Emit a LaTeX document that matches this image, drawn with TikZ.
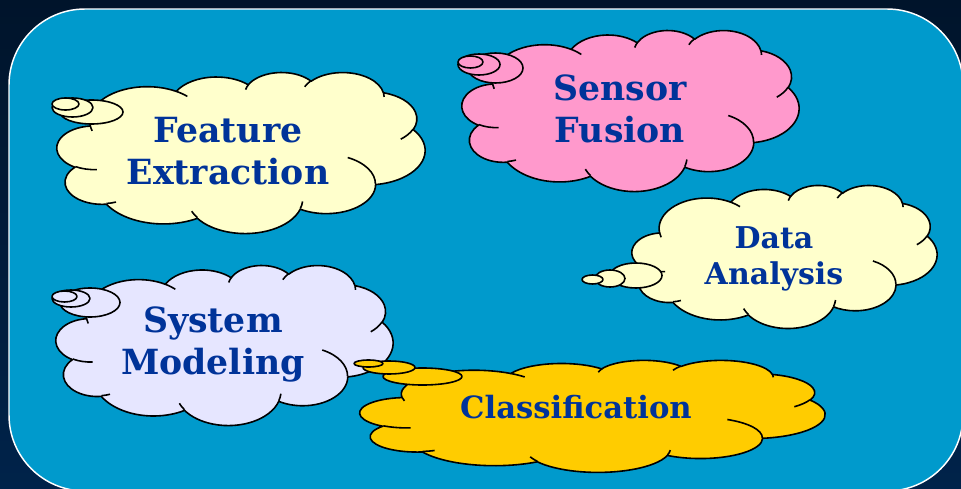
\documentclass[tikz,border=0pt]{standalone}
\usepackage{fontspec}
\setmainfont{DejaVu Serif}
\usepackage{tikz}
\definecolor{NightBlue}{HTML}{00142B}
\definecolor{NightBlueLow}{HTML}{00234A}
\definecolor{PanelBlue}{HTML}{009ACC}
\definecolor{InkBlue}{HTML}{003399}
\definecolor{CreamYellow}{HTML}{FFFFCC}
\definecolor{SoftPink}{HTML}{FF99CC}
\definecolor{Lavender}{HTML}{E6E6FF}
\definecolor{Gold}{HTML}{FFCC00}

\tikzset{
  declare function={pa(\w,\h,\a)=atan2(\w*sin(\a),\h*cos(\a));},
  cloudline/.style={draw=black, line width=1.2pt, line join=round},
  label text/.style={text=InkBlue, align=center, font=\bfseries\fontsize{26}{31.5}\selectfont}
}

% one puff of the outline: radii and angles as in a 432-unit box
\newcommand{\puff}[4]{arc[x radius={#1/432}, y radius={#2/432},
  start angle={pa(#1,#2,#3)},
  end angle={pa(#1,#2,#3)+mod(pa(#1,#2,#3+#4)-pa(#1,#2,#3)+720,360)}]}

% cloud body in a box: fill, left, top, width, height
\newcommand{\cloudbody}[5]{%
  \begin{scope}[shift={(#2,#3)}, xscale=#4/100, yscale=#5/100]
    \filldraw[cloudline, fill=#1] (9.028,33.264)
      \puff{6753}{9190}{-190.4875}{123.7805}
      \puff{5333}{7267}{-144.1024}{89.9452}
      \puff{4365}{5945}{-145.8079}{99.7230}
      \puff{4857}{6595}{-130.9861}{117.2417}
      \puff{5333}{7273}{-78.7089}{109.0269}
      \puff{6775}{9220}{-46.2673}{130.2690}
      \puff{5785}{7867}{0.6250}{114.0333}
      \puff{6752}{9215}{22.4516}{115.1726}
      \puff{7720}{10543}{66.2426}{75.7110}
      \puff{4360}{5918}{-274.9421}{146.7356}
      \puff{4345}{5945}{-246.8285}{152.5189} -- cycle;
    % inner folds
    \draw[cloudline] (10.863,60.595) \puff{4345}{5945}{86.7420}{26.4295}
      (16.037,80.785) \puff{4360}{5918}{73.6105}{11.4475}
      (38.144,90.486) \puff{6752}{9215}{137.6242}{14.0811}
      (66.729,80.442) \puff{6752}{9215}{6.4533}{15.9984}
      (79.002,53.134) \puff{5785}{7867}{-70.2924}{70.9174}
      (96.755,35.542) \puff{5333}{7273}{30.3180}{27.7515}
      (88.713,12.560) \puff{4857}{6595}{-13.7443}{14.8589}
      (67.310,9.148) \puff{4857}{6595}{-149.1815}{18.1954}
      (51.252,10.926) \puff{4365}{5945}{-163.4943}{17.6864}
      (32.407,12.019) \puff{6753}{9190}{-66.7070}{12.3194}
      (9.553,36.549) \puff{6753}{9190}{157.6544}{11.8582};
  \end{scope}}

\begin{document}
\begin{tikzpicture}[x=0.75pt, y=-0.75pt]
        \useasboundingbox (0,0) rectangle (961,489);
        % Backdrop and panel
        \shade[top color=NightBlue, bottom color=NightBlueLow] (0,0) rectangle (961,489);
        \draw[white, line width=1.1pt, fill=PanelBlue, rounded corners=57pt] (9,9) rectangle (963,491);

        % Feature extraction
        \cloudbody{CreamYellow}{57}{72}{368}{161}
        \filldraw[cloudline, fill=CreamYellow] (91.5,112) ellipse[x radius=31.5, y radius=12];
        \filldraw[cloudline, fill=CreamYellow] (72.5,107.5) ellipse[x radius=20.5, y radius=9.5];
        \filldraw[cloudline, fill=CreamYellow] (65.5,104) ellipse[x radius=13.5, y radius=6];
        \node[label text] (feature) at (228,151) {Feature\\Extraction};

        % Sensor fusion
        \cloudbody{SoftPink}{462}{30}{337}{161}
        \filldraw[cloudline, fill=SoftPink] (495.5,68) ellipse[x radius=27.5, y radius=15];
        \filldraw[cloudline, fill=SoftPink] (479,64.5) ellipse[x radius=21, y radius=10.5];
        \filldraw[cloudline, fill=SoftPink] (470.5,62) ellipse[x radius=12.5, y radius=6];
        \node[label text] (fusion) at (620,109) {Sensor\\Fusion};

        % Data analysis
        \cloudbody{CreamYellow}{632}{185}{305}{143}
        \filldraw[cloudline, fill=CreamYellow] (636,275.5) ellipse[x radius=26, y radius=12.5];
        \filldraw[cloudline, fill=CreamYellow] (610,278.5) ellipse[x radius=15, y radius=8.5];
        \filldraw[cloudline, fill=CreamYellow] (592.5,279.5) ellipse[x radius=10.5, y radius=4.5];
        \node[label text, font=\bfseries\fontsize{22.5}{27}\selectfont] (analysis) at (774,258.5) {Data\\Analysis};

        % System modeling
        \cloudbody{Lavender}{56}{265}{337}{160}
        \filldraw[cloudline, fill=Lavender] (90,302.5) ellipse[x radius=30, y radius=14.5];
        \filldraw[cloudline, fill=Lavender] (71,298.5) ellipse[x radius=19, y radius=8.5];
        \filldraw[cloudline, fill=Lavender] (64.5,296.5) ellipse[x radius=12.5, y radius=5.5];
        \node[label text] (modeling) at (213,344) {System\\Modeling};

        % Classification
        \cloudbody{Gold}{360}{360}{465}{112}
        \filldraw[cloudline, fill=Gold] (422.5,376.5) ellipse[x radius=39.5, y radius=8.5];
        \filldraw[cloudline, fill=Gold] (389,367.5) ellipse[x radius=26, y radius=6.5];
        \filldraw[cloudline, fill=Gold] (368.5,363.5) ellipse[x radius=14.5, y radius=3.5];
        \node[label text, font=\bfseries\fontsize{23}{28}\selectfont] (classify) at (576,407) {Classification};
    \end{tikzpicture}
\end{document}
